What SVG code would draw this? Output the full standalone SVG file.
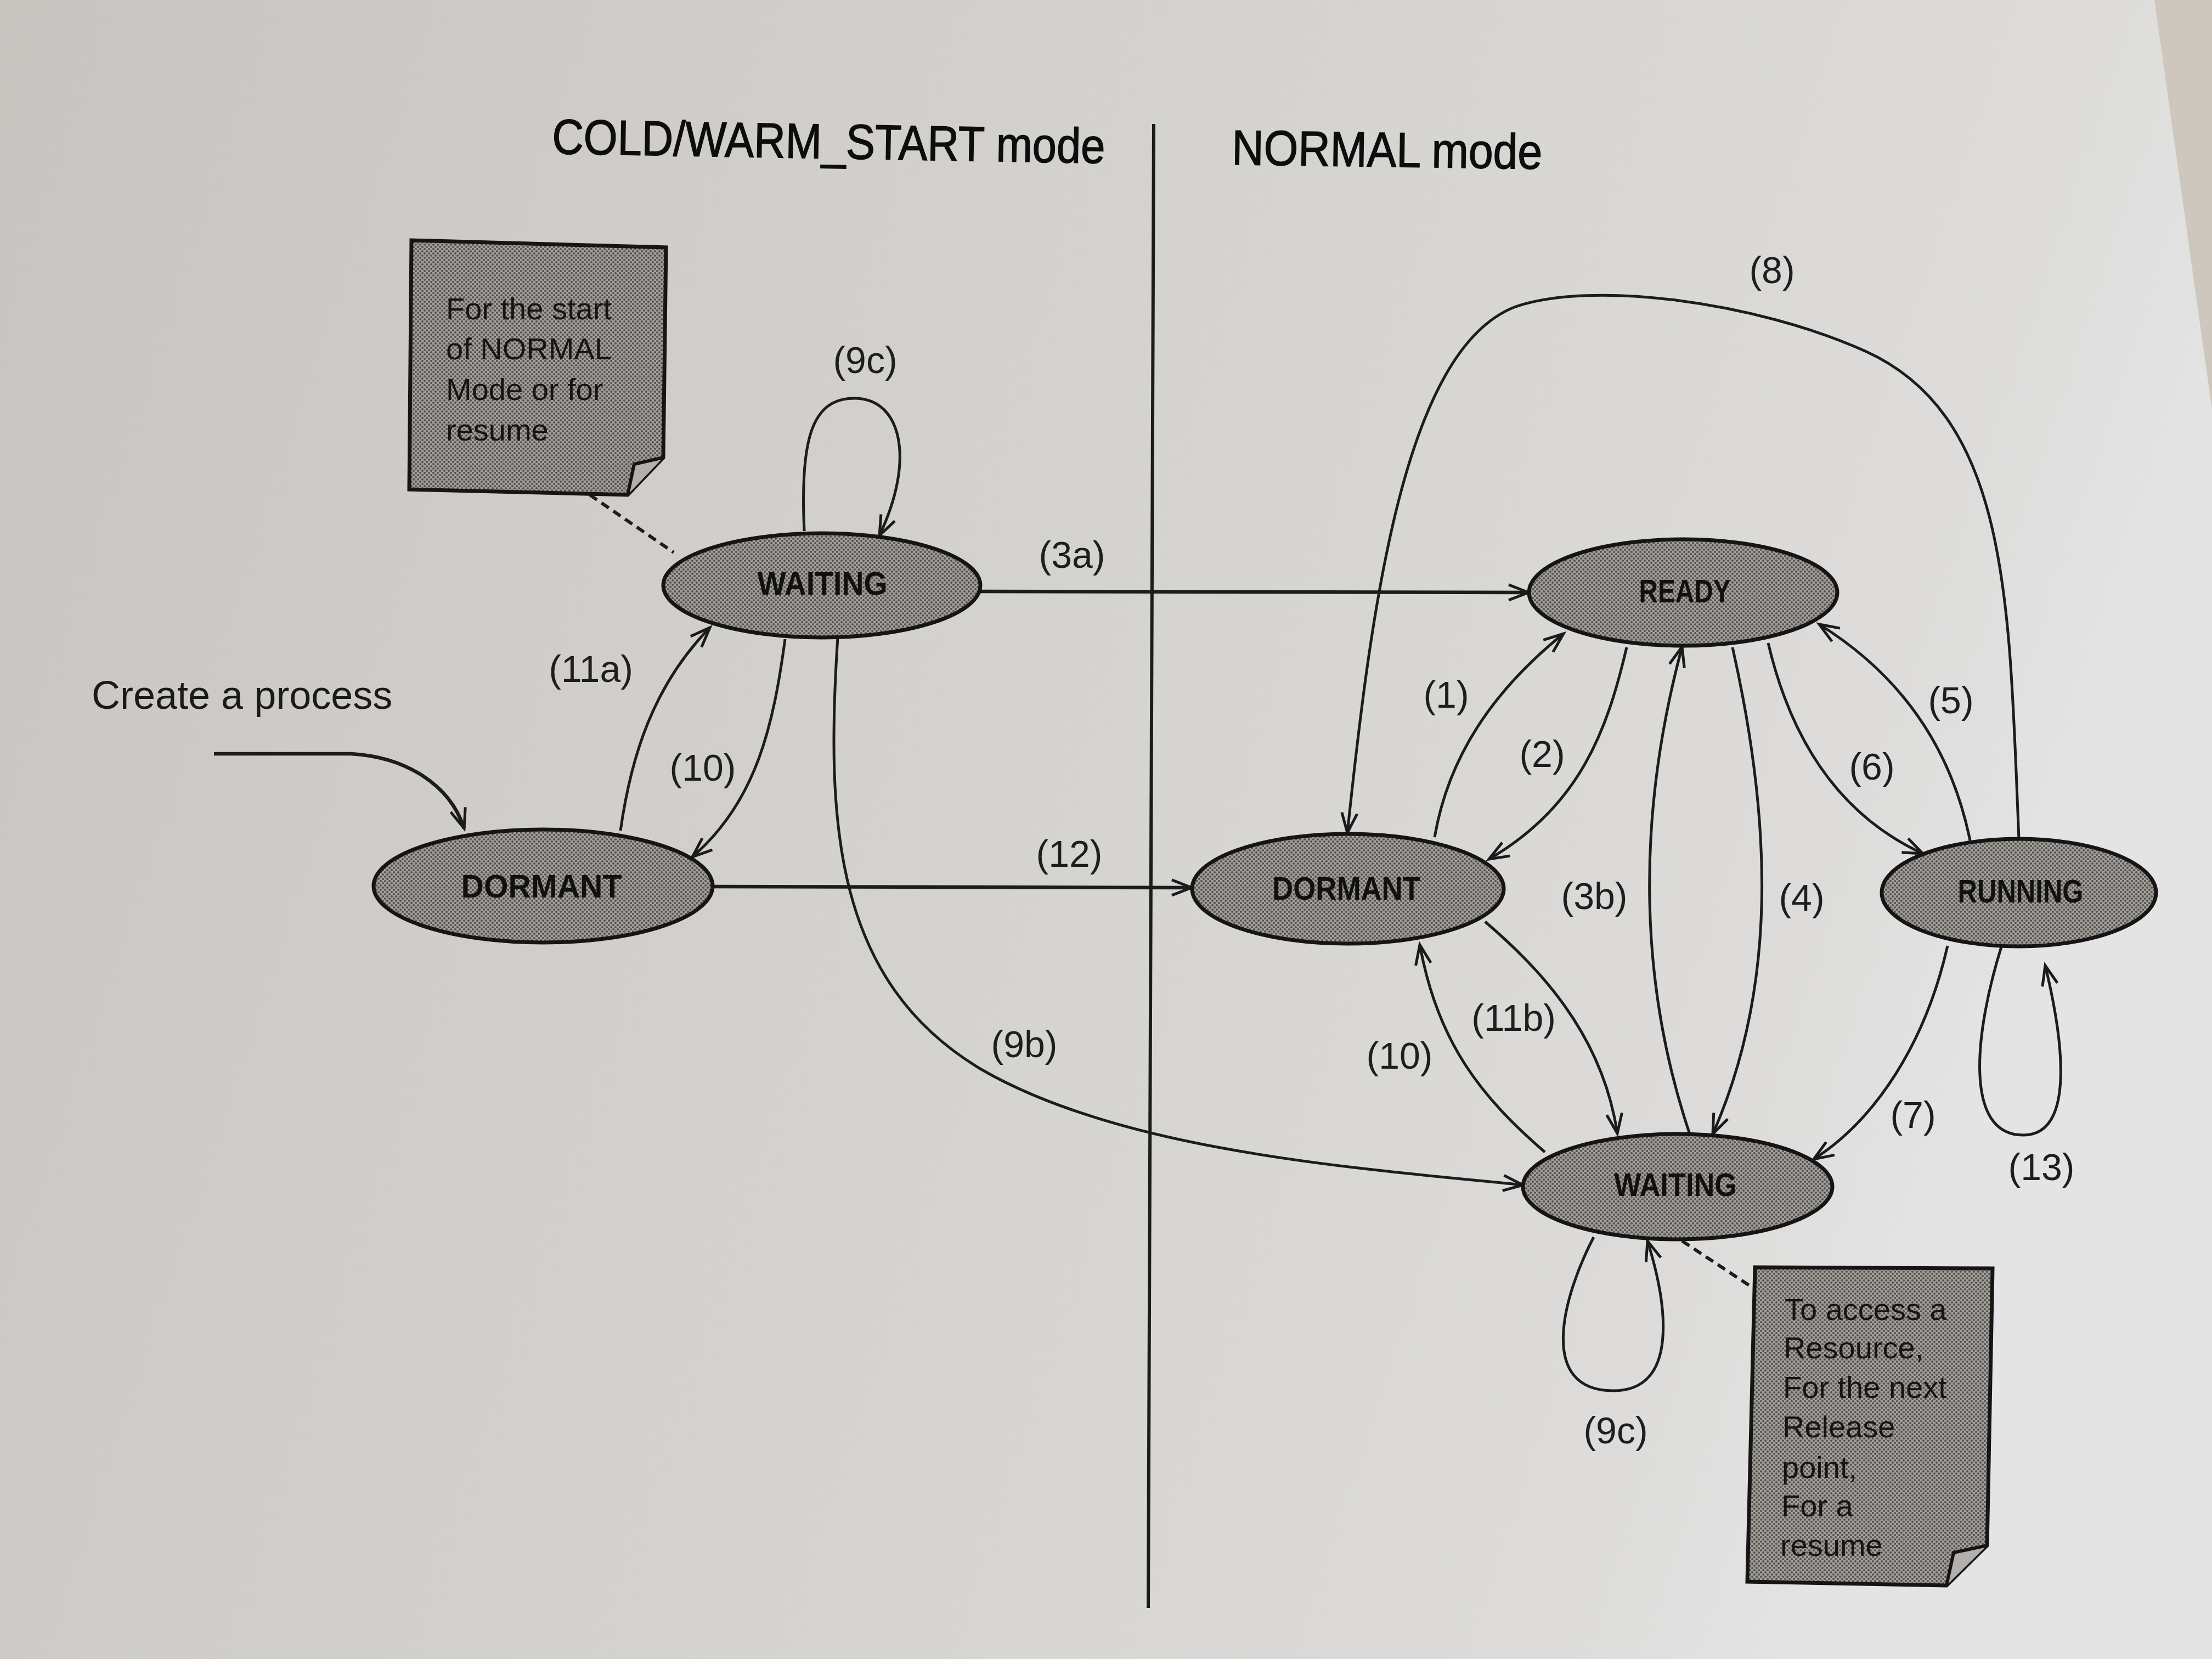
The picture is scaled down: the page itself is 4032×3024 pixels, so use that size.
<svg xmlns="http://www.w3.org/2000/svg" width="4032" height="3024" viewBox="0 0 4032 3024">
<defs>
<linearGradient id="bg" x1="0" y1="0" x2="1" y2="0.25">
<stop offset="0" stop-color="#c8c5c1"/>
<stop offset="0.55" stop-color="#d5d3d0"/>
<stop offset="0.9" stop-color="#dddcda"/>
<stop offset="1" stop-color="#e4e4e5"/>
</linearGradient>
<pattern id="dots" width="8" height="8" patternUnits="userSpaceOnUse">
<rect width="8" height="8" fill="#a29e99"/>
<circle cx="2" cy="2" r="2" fill="#524f4c"/>
<circle cx="6" cy="6" r="2" fill="#524f4c"/>
</pattern>
<marker id="arr" markerUnits="userSpaceOnUse" markerWidth="60" markerHeight="40" refX="40" refY="16" orient="auto" overflow="visible">
<path d="M4,2 L40,16 L4,30" fill="none" stroke="#1a1a1a" stroke-width="5"/>
</marker>
<style>
.node{fill:url(#dots);stroke:#151515;stroke-width:7}
.nt{font-family:"Liberation Sans",Arial,sans-serif;font-size:60px;font-weight:bold;fill:#111;text-anchor:middle}
.lbl{font-family:"Liberation Sans",Arial,sans-serif;font-size:68px;fill:#1e1e1e;text-anchor:middle}
.title{font-family:"Liberation Sans",Arial,sans-serif;font-size:90px;fill:#0d0d0d;stroke:#0d0d0d;stroke-width:1.5}
.note{fill:url(#dots);stroke:#151515;stroke-width:7}
.notet{font-family:"Liberation Sans",Arial,sans-serif;font-size:56px;fill:#151515}
.c{fill:none;stroke:#1c1c1c;stroke-width:5;marker-end:url(#arr)}
.ct{fill:none;stroke:#1c1c1c;stroke-width:6.5;marker-end:url(#arr)}
.dash{fill:none;stroke:#1c1c1c;stroke-width:6;stroke-dasharray:16 10}
</style>
</defs>
<rect width="4032" height="3024" fill="url(#bg)"/>
<polygon points="3927,0 4032,0 4032,746" fill="#cdc7bd"/>

<g id="titles">
<text class="title" x="1006" y="280" textLength="1008" lengthAdjust="spacingAndGlyphs" transform="rotate(1 1006 280)">COLD/WARM_START mode</text>
<text class="title" x="2245" y="300" textLength="566" lengthAdjust="spacingAndGlyphs" transform="rotate(0.8 2245 300)">NORMAL mode</text>
</g>

<g id="divider">
<line x1="2103" y1="226" x2="2093" y2="2931" stroke="#1c1c1c" stroke-width="6"/>
</g>

<g id="connectors">
<!-- create a process -->
<path class="ct" d="M390,1374 L640,1374 C740,1380 820,1430 846,1510"/>
<!-- 11a -->
<path class="c" d="M1131,1514 C1150,1380 1190,1250 1294,1144"/>
<!-- 10 left -->
<path class="c" d="M1431,1165 C1410,1320 1380,1460 1262,1562"/>
<!-- 9c top loop -->
<path class="c" d="M1466,968 C1458,800 1480,726 1557,726 C1645,726 1668,840 1603,976"/>
<!-- 3a -->
<path class="ct" d="M1787,1078 L2786,1080"/>
<!-- 12 -->
<path class="ct" d="M1299,1616 L2172,1618"/>
<!-- 9b -->
<path class="c" d="M1527,1162 C1505,1500 1520,1790 1790,1950 C2050,2100 2480,2130 2776,2160"/>
<!-- 8 -->
<path class="c" d="M3680,1529 C3662,1100 3665,760 3400,640 C3200,550 2900,510 2760,560 C2560,640 2500,1100 2456,1518"/>
<!-- 1 -->
<path class="c" d="M2615,1526 C2640,1380 2720,1260 2850,1155"/>
<!-- 2 -->
<path class="c" d="M2965,1180 C2930,1330 2880,1470 2714,1566"/>
<!-- 3b -->
<path class="c" d="M3080,2067 C2990,1800 2980,1500 3066,1179"/>
<!-- 4 -->
<path class="c" d="M3158,1180 C3230,1500 3240,1800 3122,2067"/>
<!-- 6 -->
<path class="c" d="M3223,1172 C3260,1330 3340,1480 3505,1556"/>
<!-- 5 -->
<path class="c" d="M3591,1532 C3560,1380 3480,1240 3316,1138"/>
<!-- 11b -->
<path class="c" d="M2707,1680 C2800,1760 2920,1880 2948,2066"/>
<!-- 10 right -->
<path class="c" d="M2816,2100 C2700,2000 2620,1900 2588,1722"/>
<!-- 7 -->
<path class="c" d="M3550,1724 C3510,1900 3420,2040 3306,2113"/>
<!-- 13 loop -->
<path class="c" d="M3648,1726 C3600,1880 3578,2069 3688,2069 C3782,2069 3762,1900 3728,1760"/>
<!-- 9c bottom loop -->
<path class="c" d="M2905,2255 C2850,2360 2800,2535 2941,2535 C3060,2535 3040,2380 3003,2262"/>
<!-- note links -->
<path class="dash" d="M1075,902 L1228,1007"/>
<path class="dash" d="M3066,2262 L3193,2346"/>
</g>

<g id="labels">
<text class="lbl" x="1577" y="680">(9c)</text>
<text class="lbl" x="1954" y="1035">(3a)</text>
<text class="lbl" x="1077" y="1243">(11a)</text>
<text class="lbl" x="1281" y="1423">(10)</text>
<text class="lbl" x="1949" y="1580">(12)</text>
<text class="lbl" x="1867" y="1927">(9b)</text>
<text class="lbl" x="3230" y="516">(8)</text>
<text class="lbl" x="2636" y="1290">(1)</text>
<text class="lbl" x="2811" y="1398">(2)</text>
<text class="lbl" x="3556" y="1300">(5)</text>
<text class="lbl" x="3412" y="1421">(6)</text>
<text class="lbl" x="2906" y="1657">(3b)</text>
<text class="lbl" x="3284" y="1660">(4)</text>
<text class="lbl" x="2759" y="1879">(11b)</text>
<text class="lbl" x="2551" y="1948">(10)</text>
<text class="lbl" x="3487" y="2056">(7)</text>
<text class="lbl" x="3721" y="2151">(13)</text>
<text class="lbl" x="2945" y="2631">(9c)</text>
<text x="167" y="1292" font-family="Liberation Sans, Arial, sans-serif" font-size="72" fill="#1a1a1a">Create a process</text>
</g>

<g id="note-left">
<polygon class="note" points="750,438 1214,451 1209,834 1144,902 746,892"/>
<polyline points="1209,834 1156,846 1144,902" fill="#b3afaa" stroke="#151515" stroke-width="6"/>
<text class="notet" x="813" y="582">For the start</text>
<text class="notet" x="813" y="655">of NORMAL</text>
<text class="notet" x="813" y="729">Mode or for</text>
<text class="notet" x="813" y="803">resume</text>
</g>

<g id="note-right">
<polygon class="note" points="3199,2310 3632,2312 3622,2817 3548,2890 3185,2883"/>
<polyline points="3622,2817 3561,2830 3548,2890" fill="#b3afaa" stroke="#151515" stroke-width="6"/>
<text class="notet" x="3253" y="2406">To access a</text>
<text class="notet" x="3251" y="2476">Resource,</text>
<text class="notet" x="3250" y="2548">For the next</text>
<text class="notet" x="3249" y="2620">Release</text>
<text class="notet" x="3248" y="2694">point,</text>
<text class="notet" x="3247" y="2764">For a</text>
<text class="notet" x="3245" y="2836">resume</text>
</g>

<g id="waiting-cold">
<ellipse class="node" cx="1498" cy="1067" rx="289" ry="95"/>
<text class="nt" x="1499" y="1084" textLength="237" lengthAdjust="spacingAndGlyphs">WAITING</text>
</g>
<g id="dormant-cold">
<ellipse class="node" cx="990" cy="1615" rx="309" ry="103"/>
<text class="nt" x="987" y="1636" textLength="293" lengthAdjust="spacingAndGlyphs">DORMANT</text>
</g>
<g id="ready">
<ellipse class="node" cx="3068" cy="1080" rx="281" ry="97"/>
<text class="nt" x="3071" y="1098" textLength="167" lengthAdjust="spacingAndGlyphs">READY</text>
</g>
<g id="dormant-normal">
<ellipse class="node" cx="2457" cy="1620" rx="284" ry="100"/>
<text class="nt" x="2454" y="1640" textLength="270" lengthAdjust="spacingAndGlyphs">DORMANT</text>
</g>
<g id="running">
<ellipse class="node" cx="3680" cy="1627" rx="250" ry="98"/>
<text class="nt" x="3683" y="1645" textLength="229" lengthAdjust="spacingAndGlyphs">RUNNING</text>
</g>
<g id="waiting-normal">
<ellipse class="node" cx="3058" cy="2163" rx="282" ry="96"/>
<text class="nt" x="3054" y="2180" textLength="224" lengthAdjust="spacingAndGlyphs">WAITING</text>
</g>
</svg>
